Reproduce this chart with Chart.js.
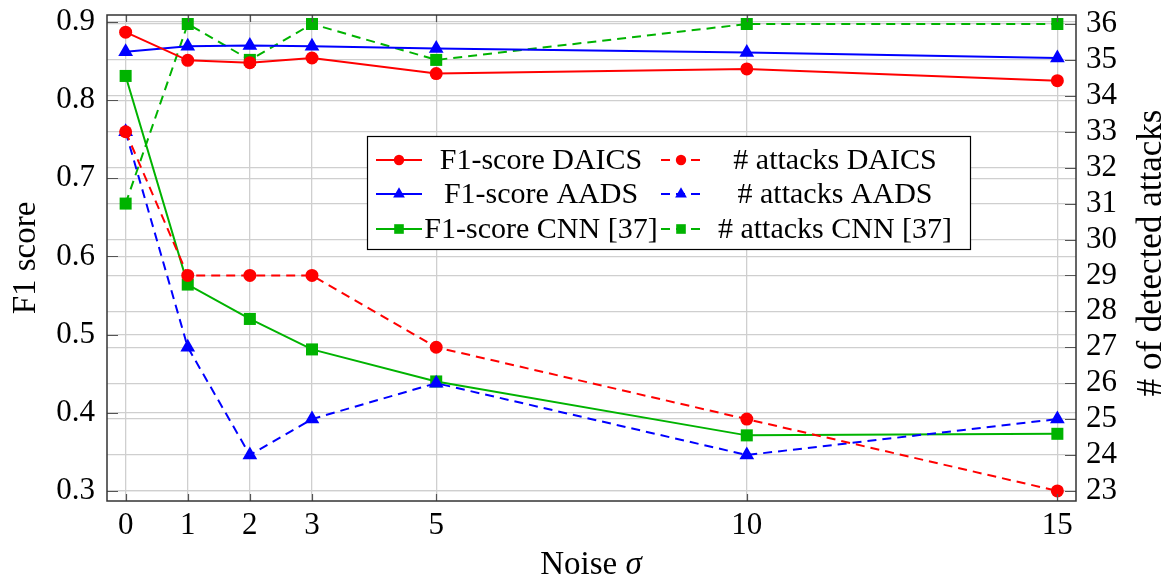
<!DOCTYPE html>
<html>
<head>
<meta charset="utf-8">
<script src="https://cdn.jsdelivr.net/npm/chart.js@4.4.0/dist/chart.umd.min.js"></script>
<style>
  html, body { margin: 0; padding: 0; background: #fff; }
</style>
</head>
<body>
<canvas id="chart" width="1170" height="578"></canvas>
<script>
// values
const noise = [0, 1, 2, 3, 5, 10, 15];
const f1Daics = [0.887, 0.851, 0.848, 0.854, 0.834, 0.840, 0.825];
const f1Aads = [0.862, 0.869, 0.870, 0.869, 0.866, 0.861, 0.854];
const f1Cnn = [0.831, 0.564, 0.520, 0.481, 0.440, 0.371, 0.373];
const attDaics = [33, 29, 29, 29, 27, 25, 23];
const attAads = [33, 27, 24, 25, 26, 24, 25];
const attCnn = [31, 36, 35, 36, 35, 36, 36];

const xTicks = [0, 1, 2, 3, 5, 10, 15];
const f1Ticks = [0.3, 0.4, 0.5, 0.6, 0.7, 0.8, 0.9];
const attTicks = [23, 24, 25, 26, 27, 28, 29, 30, 31, 32, 33, 34, 35, 36];

const RED = '#ff0000';
const BLUE = '#0000ff';
const GREEN = '#00b300';
const FONT = "'Liberation Serif', 'DejaVu Serif', serif";
const GRID = '#cfcfcf';

function pts(values) {
  return values.map((v, i) => ({ x: noise[i], y: v }));
}

function series(label, values, color, style, axis, dashed) {
  const radius = style === 'circle' ? 6.5 : 8.5;
  return {
    label,
    data: pts(values),
    yAxisID: axis,
    borderColor: color,
    backgroundColor: color,
    borderWidth: 2,
    borderDash: dashed ? [9, 6] : [],
    pointStyle: style,
    pointRadius: radius,
    pointHoverRadius: radius,
    pointBorderWidth: 0,
    tension: 0,
  };
}

const datasets = [
  series('F1-score DAICS', f1Daics, RED, 'circle', 'y', false),
  series('# attacks DAICS', attDaics, RED, 'circle', 'y1', true),
  series('F1-score AADS', f1Aads, BLUE, 'triangle', 'y', false),
  series('# attacks AADS', attAads, BLUE, 'triangle', 'y1', true),
  series('F1-score CNN [37]', f1Cnn, GREEN, 'rect', 'y', false),
  series('# attacks CNN [37]', attCnn, GREEN, 'rect', 'y1', true),
];

function fixTicks(list) {
  return scale => { scale.ticks = list.map(v => ({ value: v })); };
}

function noPad(size, key) {
  return s => {
    s[key] = size;
    s.paddingTop = 0; s.paddingBottom = 0;
    s.paddingLeft = 0; s.paddingRight = 0;
  };
}

function tickOpts(padding, fmt) {
  return {
    color: '#000',
    padding,
    autoSkip: false,
    maxRotation: 0,
    font: { family: FONT, size: 31, lineHeight: 1 },
    callback: fmt,
  };
}

// frame, inward tick marks, axis titles and the boxed legend
const decorations = {
  id: 'decorations',
  afterDatasetsDraw(chart) {
    const { ctx, chartArea: a, scales } = chart;
    ctx.save();

    ctx.strokeStyle = '#555';
    ctx.lineWidth = 1.2;
    ctx.beginPath();
    xTicks.forEach(v => {
      const px = Math.round(scales.x.getPixelForValue(v)) + 0.5;
      ctx.moveTo(px, a.bottom); ctx.lineTo(px, a.bottom - 7);
      ctx.moveTo(px, a.top); ctx.lineTo(px, a.top + 7);
    });
    f1Ticks.forEach(v => {
      const py = Math.round(scales.y.getPixelForValue(v)) + 0.5;
      ctx.moveTo(a.left, py); ctx.lineTo(a.left + 11, py);
    });
    attTicks.forEach(v => {
      const py = Math.round(scales.y1.getPixelForValue(v)) + 0.5;
      ctx.moveTo(a.right, py); ctx.lineTo(a.right - 11, py);
    });
    ctx.stroke();

    ctx.strokeStyle = '#333';
    ctx.lineWidth = 1.5;
    ctx.strokeRect(a.left, a.top, a.right - a.left, a.bottom - a.top);

    // axis titles
    ctx.fillStyle = '#000';
    ctx.textAlign = 'center';
    ctx.textBaseline = 'middle';
    ctx.save();
    ctx.font = `33px ${FONT}`;
    ctx.translate(26, 258);
    ctx.rotate(-Math.PI / 2);
    ctx.fillText('F1 score', 0, 0);
    ctx.restore();
    ctx.save();
    ctx.font = `35px ${FONT}`;
    ctx.translate(1152, 253);
    ctx.rotate(-Math.PI / 2);
    ctx.fillText('# of detected attacks', 0, 0);
    ctx.restore();

    const word = 'Noise ';
    ctx.font = `33px ${FONT}`;
    const w1 = ctx.measureText(word).width;
    ctx.font = `italic 33px ${FONT}`;
    const w2 = ctx.measureText('σ').width;
    const x0 = 591 - (w1 + w2) / 2;
    ctx.textAlign = 'left';
    ctx.font = `33px ${FONT}`;
    ctx.fillText(word, x0, 565);
    ctx.font = `italic 33px ${FONT}`;
    ctx.fillText('σ', x0 + w1, 565);

    // legend
    const box = { left: 367, top: 136, right: 970, bottom: 249 };
    ctx.fillStyle = '#fff';
    ctx.fillRect(box.left, box.top, box.right - box.left, box.bottom - box.top);
    ctx.strokeStyle = '#000';
    ctx.lineWidth = 1.2;
    ctx.strokeRect(box.left + 0.5, box.top + 0.5, box.right - box.left, box.bottom - box.top);

    const rows = [160, 194, 229];
    const cols = [
      { l: 376, r: 422, text: 541 },
      { l: 661, r: 701, text: 835 },
    ];
    chart.data.datasets.forEach((ds, i) => {
      const row = rows[Math.floor(i / 2)];
      const col = cols[i % 2];
      ctx.strokeStyle = ds.borderColor;
      ctx.lineWidth = 2;
      ctx.setLineDash(ds.borderDash);
      ctx.beginPath();
      ctx.moveTo(col.l, row);
      ctx.lineTo(col.r, row);
      ctx.stroke();
      ctx.setLineDash([]);
      ctx.fillStyle = ds.backgroundColor;
      Chart.helpers.drawPoint(ctx, {
        pointStyle: ds.pointStyle,
        radius: ds.pointRadius * 0.8,
        borderWidth: 0,
        rotation: 0,
      }, (col.l + col.r) / 2, row);
      ctx.fillStyle = '#000';
      ctx.textAlign = 'center';
      ctx.font = `30px ${FONT}`;
      ctx.fillText(ds.label, col.text, row + 1);
    });

    ctx.restore();
  }
};

new Chart(document.getElementById('chart'), {
  type: 'line',
  data: { datasets },
  options: {
    responsive: false,
    animation: false,
    devicePixelRatio: 1,
    layout: { padding: { top: 15, left: 0, right: 0, bottom: 0 } },
    plugins: {
      legend: { display: false },
      tooltip: { enabled: false },
    },
    scales: {
      x: {
        type: 'linear',
        min: -0.3,
        max: 15.3,
        afterBuildTicks: fixTicks(xTicks),
        afterFit: noPad(77, 'height'),
        grid: { color: GRID, lineWidth: 1.3, drawTicks: false },
        border: { display: false },
        ticks: tickOpts(9, v => String(v)),
      },
      y: {
        position: 'left',
        min: 0.287,
        max: 0.909,
        afterBuildTicks: fixTicks(f1Ticks),
        afterFit: noPad(107, 'width'),
        grid: { color: GRID, lineWidth: 1.3, drawTicks: false },
        border: { display: false },
        ticks: tickOpts(12, v => v.toFixed(1)),
      },
      y1: {
        position: 'right',
        min: 22.72,
        max: 36.25,
        afterBuildTicks: fixTicks(attTicks),
        afterFit: noPad(94, 'width'),
        grid: { color: GRID, lineWidth: 1.3, drawTicks: false },
        border: { display: false },
        ticks: tickOpts(10, v => String(v)),
      },
    },
  },
  plugins: [decorations],
});
</script>
</body>
</html>
